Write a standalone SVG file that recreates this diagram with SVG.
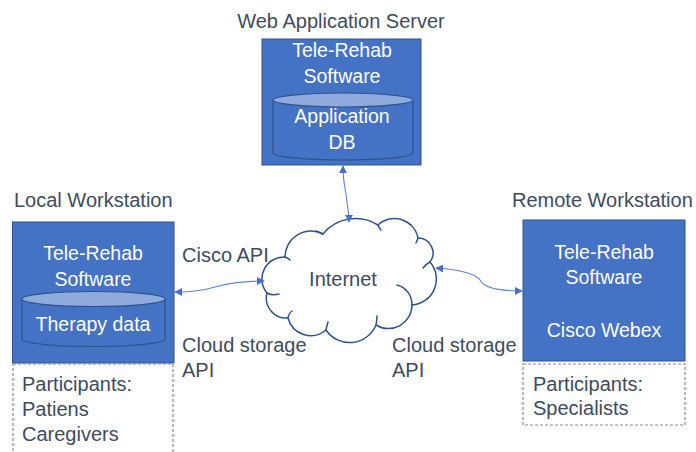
<svg xmlns="http://www.w3.org/2000/svg" width="696" height="452" viewBox="0 0 696 452">
  <style>
    .box { fill: #4472C4; stroke: #2F528F; stroke-width: 1; }
    .cyl { fill: #4472C4; stroke: #2F528F; stroke-width: 1.2; }
    .cyltop { fill: #8FAADC; stroke: #2F528F; stroke-width: 1.2; }
    .dash { fill: #FFFFFF; stroke: #8C8C8C; stroke-width: 1.2; stroke-dasharray: 3 2; }
    .in { font-family: "Liberation Sans", Arial, sans-serif; font-size: 19.5px; fill: #FFFFFF; text-anchor: middle; }
    .out { font-family: "Liberation Sans", Arial, sans-serif; font-size: 20px; fill: #3E4C5E; }
    .cloud { fill: #FFFFFF; stroke: #2F528F; stroke-width: 1.5; stroke-linejoin: round; }
    .hook { fill: none; stroke: #2F528F; stroke-width: 1.5; stroke-linecap: round; }
    .link { fill: none; stroke: #5B87D6; stroke-width: 1.1; marker-start: url(#tip); marker-end: url(#tip); }
  </style>
  <defs>
    <marker id="tip" viewBox="0 0 10 10" refX="9" refY="5" markerWidth="8" markerHeight="8" markerUnits="userSpaceOnUse" orient="auto-start-reverse">
      <path d="M0,0 L10,5 L0,10 Z" fill="#4472C4"/>
    </marker>
  </defs>

  <!-- Web application server -->
  <g id="web-server">
    <text class="out" x="341" y="28" text-anchor="middle">Web Application Server</text>
    <rect class="box" x="262" y="39" width="159" height="126"/>
    <text class="in" x="342" y="57">Tele-Rehab</text>
    <text class="in" x="342" y="83">Software</text>
    <path class="cyl" d="M273,100 L273,153 A70,7 0 0 0 413,153 L413,100"/>
    <ellipse class="cyltop" cx="343" cy="100" rx="70" ry="7"/>
    <text class="in" x="342" y="123">Application</text>
    <text class="in" x="342" y="149">DB</text>
  </g>

  <!-- Local workstation -->
  <g id="local-workstation">
    <text class="out" x="14" y="207">Local Workstation</text>
    <rect class="box" x="12.5" y="222" width="161.5" height="141"/>
    <text class="in" x="93" y="260">Tele-Rehab</text>
    <text class="in" x="93" y="286">Software</text>
    <path class="cyl" d="M22,299 L22,339 A71.5,7.5 0 0 0 165,339 L165,299"/>
    <ellipse class="cyltop" cx="93.5" cy="299" rx="71.5" ry="7.5"/>
    <text class="in" x="93" y="331">Therapy data</text>
  </g>
  <g id="local-participants">
    <rect class="dash" x="13" y="364" width="160" height="96"/>
    <text class="out" x="22" y="391">Participants:</text>
    <text class="out" x="22" y="416">Patiens</text>
    <text class="out" x="22" y="441">Caregivers</text>
  </g>

  <!-- Remote workstation -->
  <g id="remote-workstation">
    <text class="out" x="512" y="207">Remote Workstation</text>
    <rect class="box" x="523" y="220" width="162" height="141"/>
    <text class="in" x="604" y="259">Tele-Rehab</text>
    <text class="in" x="604" y="284">Software</text>
    <text class="in" x="604" y="337">Cisco Webex</text>
  </g>
  <g id="remote-participants">
    <rect class="dash" x="523" y="364" width="162" height="61"/>
    <text class="out" x="533" y="391">Participants:</text>
    <text class="out" x="533" y="415">Specialists</text>
  </g>

  <!-- Internet cloud -->
  <g id="internet">
    <path class="cloud" d="M267,293 A22,22 0 0 1 285,257 A26,26 0 0 1 323,234 A42,42 0 0 1 378,225 A24,24 0 0 1 418,238 A15,15 0 0 1 430,262 A26,26 0 0 1 412,305 A23.5,23.5 0 0 1 376,325 A28.5,28.5 0 0 1 326,330 A23.5,23.5 0 0 1 288,318 A20,20 0 0 1 267,293 Z"/>
    <path class="hook" d="M267,293 Q272,296 279,294"/>
    <path class="hook" d="M288,318 Q289,313 292,311"/>
    <path class="hook" d="M326,330 Q327,325 328,322"/>
    <path class="hook" d="M376,325 Q377,320 377,316"/>
    <path class="hook" d="M397,285 A20,20 0 0 1 412,305"/>
    <path class="hook" d="M430,262 Q426,264 423,268"/>
    <path class="hook" d="M418,238 Q417,241 416,243"/>
    <path class="hook" d="M378,225 Q379,228 381,230"/>
    <path class="hook" d="M323,234 Q319,232 316,231"/>
    <path class="hook" d="M285,257 Q288,258 290,260"/>
    <text class="out" x="343" y="286" text-anchor="middle">Internet</text>
  </g>

  <!-- Connectors -->
  <g id="connectors">
    <path class="link" d="M343,166 C343,182 345,188 346,194 C347,204 349,212 349,222"/>
    <path class="link" d="M175,292 C195,292 205,290 215,287 C226,284 240,281 264,281"/>
    <path class="link" d="M436,268 C462,270 476,274 480,280 C484,288 500,291 522,291"/>
  </g>

  <!-- Interface labels -->
  <g id="labels">
    <text class="out" x="182" y="262">Cisco API</text>
    <text class="out" x="182" y="352">Cloud storage</text>
    <text class="out" x="182" y="377">API</text>
    <text class="out" x="392" y="352">Cloud storage</text>
    <text class="out" x="392" y="377">API</text>
  </g>
</svg>
